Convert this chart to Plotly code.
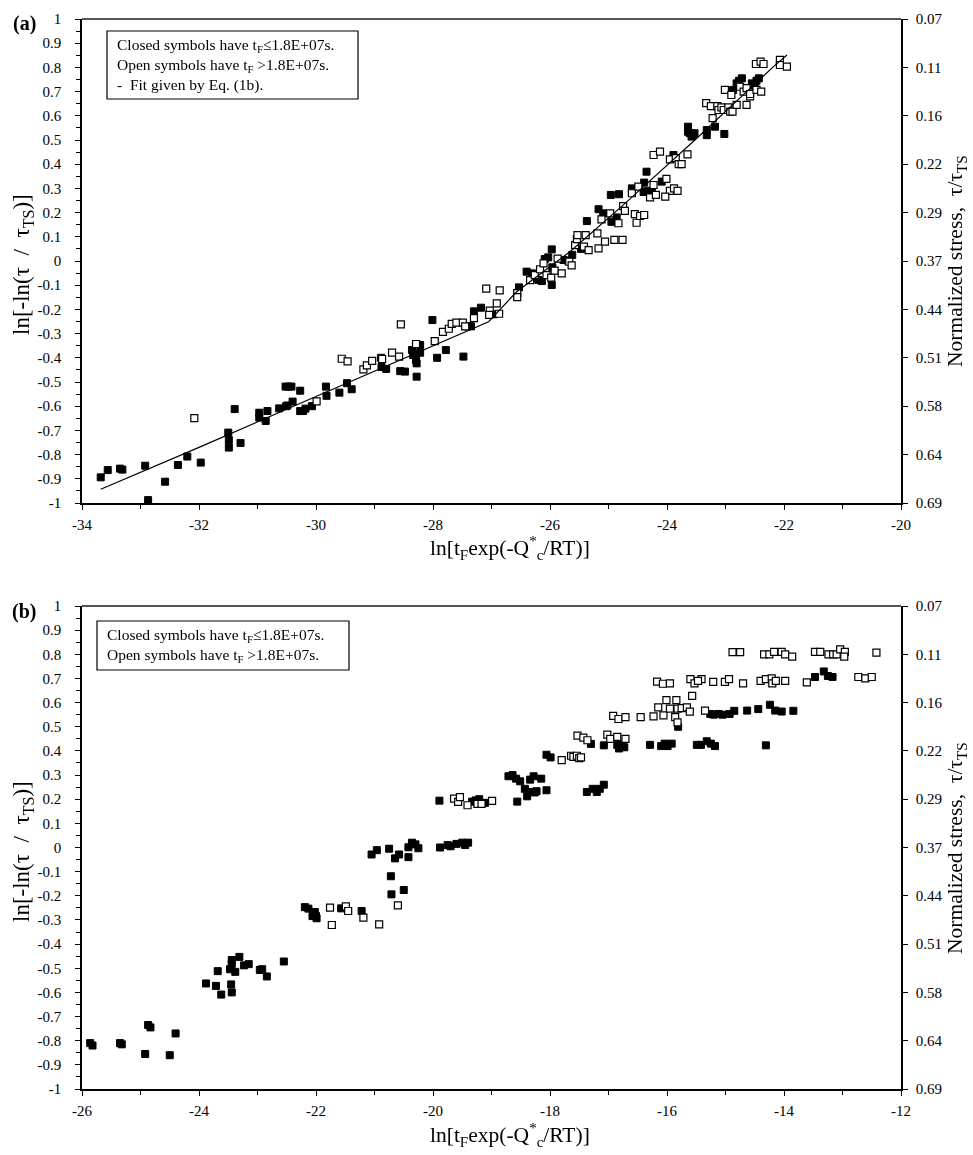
import plotly.graph_objects as go

# ---------------- DATA ----------------
# Panel (a): closed symbols (tF <= 1.8E+07 s)
a_closed_x = [-33.68, -33.56, -33.35, -33.31, -32.92, -32.87, -32.58, -32.36, -32.2, -31.97,
              -31.5, -31.49, -31.49, -31.39, -31.29, -30.97, -30.97, -30.86, -30.83, -30.63,
              -30.52, -30.47, -30.42, -30.27, -30.51, -30.49, -30.4, -30.27, -30.22, -30.18,
              -30.07, -29.83, -29.82, -29.6, -29.47, -29.39,
              -28.89, -28.88, -28.8, -28.56, -28.48, -28.36, -28.34, -28.28, -28.22, -28.22,
              -28.29, -28.28, -28.01, -27.93, -27.78, -27.48, -27.41, -27.35, -27.3, -27.18,
              -26.96, -26.53, -26.4, -26.31, -26.27, -26.2, -26.14, -26.09, -26.03, -25.97,
              -25.97, -25.96, -25.77, -25.7, -25.62, -25.47, -25.37, -25.17, -25.09, -24.95,
              -24.86, -24.96, -24.82, -24.6, -24.39, -24.4, -24.33, -24.26,
              -24.35, -24.09, -23.89, -23.64, -23.64, -23.61, -23.56, -23.58, -23.53, -23.32,
              -23.32, -23.18, -23.02, -22.87, -22.81, -22.77, -22.72, -22.55, -22.5, -22.47, -22.43]
a_closed_y = [-0.894, -0.864, -0.858, -0.862, -0.846, -0.988, -0.912, -0.843, -0.808, -0.833,
              -0.709, -0.74, -0.771, -0.612, -0.752, -0.627, -0.647, -0.661, -0.62, -0.609,
              -0.519, -0.519, -0.519, -0.536, -0.60, -0.597, -0.581, -0.62, -0.62, -0.61,
              -0.60, -0.519, -0.557, -0.544, -0.505, -0.53,
              -0.40, -0.438, -0.446, -0.455, -0.457, -0.368, -0.388, -0.423, -0.347, -0.379,
              -0.409, -0.478, -0.244, -0.40, -0.368, -0.395, -0.27, -0.27, -0.208, -0.193,
              -0.22, -0.109, -0.044, -0.051, -0.07, -0.078, -0.083, 0.008, 0.015, 0.048,
              -0.099, -0.026, 0.004, 0.002, 0.025, 0.05, 0.165, 0.214, 0.197, 0.162,
              0.18, 0.273, 0.276, 0.30, 0.324, 0.285, 0.29, 0.285,
              0.369, 0.328, 0.438, 0.555, 0.534, 0.528, 0.52, 0.514, 0.528, 0.541,
              0.52, 0.555, 0.525, 0.707, 0.734, 0.745, 0.755, 0.734, 0.724, 0.745, 0.755]

# Panel (a): open symbols (tF > 1.8E+07 s)
a_open_x = [-32.08, -29.99, -29.56, -29.46, -29.19, -29.13, -29.04, -28.87, -28.7, -28.58,
            -28.55, -28.29, -27.97, -27.83, -27.73, -27.68, -27.6, -27.49, -27.45, -27.3,
            -27.09, -27.03, -27.04, -26.87, -26.91, -26.86, -26.56, -26.56, -26.34, -26.26,
            -26.17, -26.11, -26.06, -25.98, -25.92, -25.87, -25.8, -25.67, -25.63, -25.57,
            -25.54, -25.53, -25.42, -25.39, -25.34, -25.19, -25.17, -25.12, -25.06, -24.97,
            -24.9, -24.76, -24.83, -24.75, -24.72, -24.6, -24.55, -24.52, -24.46, -24.39,
            -24.49, -24.29, -24.19, -24.23,
            -24.01, -23.95, -23.88, -23.82, -24.03, -24.23, -24.12, -23.95, -23.85, -23.8,
            -23.75, -23.65, -23.22, -23.33, -23.25, -23.14, -23.12, -23.07, -23.03, -22.95,
            -22.92, -22.88, -22.81, -22.64, -23.01, -22.9, -22.75, -22.69, -22.64, -22.58,
            -22.58, -22.47, -22.39, -22.48, -22.4, -22.35, -22.07, -22.07, -21.95]
a_open_y = [-0.649, -0.58, -0.404, -0.415, -0.448, -0.431, -0.413, -0.405, -0.379, -0.395,
            -0.262, -0.343, -0.331, -0.293, -0.28, -0.26, -0.255, -0.255, -0.27, -0.236,
            -0.114, -0.205, -0.223, -0.218, -0.175, -0.121, -0.133, -0.149, -0.079, -0.058,
            -0.034, -0.01, -0.058, -0.069, -0.04, 0.01, -0.051, -0.003, -0.018, 0.066,
            0.09, 0.107, 0.059, 0.107, 0.045, 0.114, 0.052, 0.172, 0.08, 0.197,
            0.087, 0.087, 0.156, 0.227, 0.207, 0.28, 0.194, 0.158, 0.186, 0.19,
            0.307, 0.263, 0.273, 0.314,
            0.339, 0.29, 0.30, 0.29, 0.266, 0.438, 0.452, 0.42, 0.425, 0.40,
            0.40, 0.441, 0.59, 0.652, 0.64, 0.64, 0.624, 0.635, 0.624, 0.635,
            0.617, 0.617, 0.645, 0.645, 0.707, 0.686, 0.72, 0.70, 0.714, 0.68,
            0.69, 0.707, 0.70, 0.814, 0.824, 0.814, 0.831, 0.81, 0.803]

# Panel (a): fit given by Eq. (1b)
a_fit_x = [-33.68, -32.0, -30.0, -28.0, -27.05, -26.57, -25.66, -24.75, -23.5, -22.18, -21.95]
a_fit_y = [-0.943, -0.77, -0.56, -0.35, -0.251, -0.127, 0.038, 0.231, 0.505, 0.803, 0.851]

# Panel (b): closed symbols
b_closed_x = [-25.86, -25.82, -25.35, -25.32, -24.92, -24.87, -24.83, -24.5, -24.4,
              -23.88, -23.71, -23.68, -23.62, -23.45, -23.44, -23.44, -23.44, -23.47, -23.38,
              -23.31, -23.23, -23.15, -22.96, -22.92, -22.84, -22.55, -22.19, -22.13, -22.06,
              -22.02, -22.0, -21.99, -21.57, -21.22, -21.05, -20.96, -20.75, -20.72, -20.71,
              -20.65, -20.58, -20.5, -20.42, -20.42, -20.36, -20.3, -20.25,
              -19.88, -19.75, -19.7, -19.6, -19.5, -19.45, -19.4,
              -19.89, -19.33, -19.27, -19.21, -19.11, -18.56, -18.71, -18.64, -18.58, -18.51,
              -18.34, -18.28, -18.15, -18.43, -18.39, -18.31, -18.26, -18.23, -18.06, -17.37,
              -17.27, -17.2, -17.15, -17.08, -18.06, -17.99, -17.3, -17.08, -16.85, -16.82,
              -16.76, -16.73, -16.29, -16.1, -16.04, -15.99, -15.92, -15.81, -15.49, -15.42,
              -15.32, -15.25, -15.18, -14.31, -15.26, -15.2, -15.12, -15.05, -14.93, -14.85,
              -14.63, -14.44, -14.24, -14.15, -14.04, -13.84, -13.47, -13.32, -13.25, -13.17]
b_closed_y = [-0.81, -0.82, -0.81, -0.815, -0.855, -0.735, -0.745, -0.86, -0.77,
              -0.563, -0.573, -0.512, -0.609, -0.567, -0.60, -0.466, -0.483, -0.504, -0.515,
              -0.453, -0.488, -0.483, -0.507, -0.504, -0.534, -0.472, -0.247, -0.253, -0.284,
              -0.267, -0.284, -0.293, -0.252, -0.263, -0.029, -0.011, -0.005, -0.119, -0.194,
              -0.045, -0.029, -0.176, -0.04, 0.001, 0.02, 0.013, -0.003,
              0.0, 0.01, 0.005, 0.015, 0.02, 0.01, 0.02,
              0.194, 0.19, 0.195, 0.20, 0.185, 0.19, 0.295, 0.30, 0.285, 0.274,
              0.281, 0.295, 0.285, 0.243, 0.212, 0.23, 0.228, 0.233, 0.237, 0.23,
              0.243, 0.23, 0.243, 0.26, 0.384, 0.373, 0.429, 0.423, 0.425, 0.41,
              0.425, 0.415, 0.425, 0.42, 0.43, 0.42, 0.43, 0.50, 0.425, 0.425,
              0.44, 0.43, 0.42, 0.423, 0.553, 0.55, 0.553, 0.55, 0.553, 0.566,
              0.567, 0.573, 0.591, 0.567, 0.563, 0.566, 0.706, 0.729, 0.71, 0.706]

# Panel (b): open symbols
b_open_x = [-21.76, -21.73, -21.49, -21.45, -21.19, -20.92, -20.6,
            -19.64, -19.57, -19.54, -19.41, -19.24, -19.17, -18.99,
            -17.8, -17.64, -17.6, -17.54, -17.5, -17.47,
            -17.53, -17.43, -17.36, -17.02, -16.97, -16.85, -16.71,
            -16.92, -16.83, -16.71, -16.45, -16.23, -16.06, -15.86, -15.82,
            -16.15, -16.01, -15.95, -15.84, -15.82, -15.75, -15.66, -15.61, -15.57, -15.35,
            -16.17, -16.07, -15.95, -15.6, -15.53, -15.41, -15.47, -15.21, -15.01, -14.94,
            -14.7, -14.4, -14.31, -14.21, -14.2, -14.14, -13.98, -13.61, -12.73, -12.61, -12.5,
            -14.88, -14.75, -14.34, -14.25, -14.17, -14.04, -13.98, -13.86, -13.47, -13.38,
            -13.24, -13.16, -13.1, -13.04, -12.96, -12.97, -12.42]
b_open_y = [-0.249, -0.321, -0.244, -0.263, -0.29, -0.318, -0.24,
            0.202, 0.189, 0.209, 0.175, 0.181, 0.181, 0.193,
            0.362, 0.38, 0.375, 0.38, 0.37, 0.373,
            0.463, 0.455, 0.444, 0.467, 0.45, 0.458, 0.45,
            0.545, 0.532, 0.54, 0.54, 0.543, 0.547, 0.54, 0.518,
            0.58, 0.61, 0.575, 0.61, 0.575, 0.577, 0.58, 0.563, 0.628, 0.567,
            0.687, 0.678, 0.68, 0.697, 0.68, 0.697, 0.69, 0.686, 0.686, 0.697,
            0.68, 0.69, 0.697, 0.70, 0.68, 0.69, 0.69, 0.684, 0.706, 0.70, 0.706,
            0.809, 0.809, 0.80, 0.80, 0.81, 0.81, 0.80, 0.79, 0.81, 0.81,
            0.80, 0.80, 0.80, 0.82, 0.81, 0.79, 0.807]

# Tick labels
y_tickvals = [1, 0.9, 0.8, 0.7, 0.6, 0.5, 0.4, 0.3, 0.2, 0.1, 0, -0.1, -0.2, -0.3, -0.4, -0.5,
              -0.6, -0.7, -0.8, -0.9, -1]
y_ticktext = ["1", "0.9", "0.8", "0.7", "0.6", "0.5", "0.4", "0.3", "0.2", "0.1", "0", "-0.1",
              "-0.2", "-0.3", "-0.4", "-0.5", "-0.6", "-0.7", "-0.8", "-0.9", "-1"]
r_tickvals = [1, 0.8, 0.6, 0.4, 0.2, 0, -0.2, -0.4, -0.6, -0.8, -1]
r_ticktext = ["0.07", "0.11", "0.16", "0.22", "0.29", "0.37", "0.44", "0.51", "0.58", "0.64", "0.69"]
a_xtickvals = [-34, -32, -30, -28, -26, -24, -22, -20]
a_xticktext = ["-34", "-32", "-30", "-28", "-26", "-24", "-22", "-20"]
b_xtickvals = [-26, -24, -22, -20, -18, -16, -14, -12]
b_xticktext = ["-26", "-24", "-22", "-20", "-18", "-16", "-14", "-12"]

# ---------------- LAYOUT HELPERS ----------------
W, H = 973, 1155
PL, PR, PT, PB = 82, 901, 19, 1089          # plot-area edges in page pixels
ML, MR, MT, MB = PL, W - PR, PT, H - PB
PW = PR - PL
PH = PB - PT


def px_x(px):
    return (px - PL) / PW


def px_y(py):
    return (PB - py) / PH


FONT = "Liberation Serif, Times New Roman, serif"
closed_marker = dict(symbol="square", size=7, color="black", line=dict(color="black", width=1))
open_marker = dict(symbol="square", size=7, color="white", line=dict(color="black", width=1.2))

fig = go.Figure()
# Panel (a)
fig.add_trace(go.Scatter(x=a_closed_x, y=a_closed_y, mode="markers", marker=closed_marker,
                         xaxis="x", yaxis="y", showlegend=False, hoverinfo="x+y"))
fig.add_trace(go.Scatter(x=a_open_x, y=a_open_y, mode="markers", marker=open_marker,
                         xaxis="x", yaxis="y", showlegend=False, hoverinfo="x+y"))
fig.add_trace(go.Scatter(x=a_fit_x, y=a_fit_y, mode="lines", line=dict(color="black", width=1.2),
                         xaxis="x", yaxis="y", showlegend=False, hoverinfo="skip"))
# anchor trace so the right-hand axis of (a) is drawn
fig.add_trace(go.Scatter(x=a_fit_x, y=a_fit_y, mode="lines", opacity=0, line=dict(width=0),
                         xaxis="x", yaxis="y3", showlegend=False, hoverinfo="skip"))
# Panel (b)
fig.add_trace(go.Scatter(x=b_closed_x, y=b_closed_y, mode="markers", marker=closed_marker,
                         xaxis="x2", yaxis="y2", showlegend=False, hoverinfo="x+y"))
fig.add_trace(go.Scatter(x=b_open_x, y=b_open_y, mode="markers", marker=open_marker,
                         xaxis="x2", yaxis="y2", showlegend=False, hoverinfo="x+y"))
fig.add_trace(go.Scatter(x=b_open_x, y=b_open_y, mode="markers", opacity=0,
                         xaxis="x2", yaxis="y4", showlegend=False, hoverinfo="skip"))

tickfont = dict(family=FONT, size=15, color="black")
common_x = dict(showgrid=False, zeroline=False, showline=True, linecolor="black", linewidth=1.5,
                ticks="outside", ticklen=5, tickcolor="black", tickwidth=1, tickfont=tickfont,
                ticklabelstandoff=2,
                minor=dict(dtick=1, ticks="outside", ticklen=4, tickcolor="black", tickwidth=1))
common_y = dict(showgrid=False, zeroline=False, showline=True, linecolor="black", linewidth=1.5,
                ticks="outside", ticklen=5, tickcolor="black", tickwidth=1, tickfont=tickfont,
                tickmode="array", tickvals=y_tickvals, ticktext=y_ticktext, range=[-1, 1],
                ticklabelstandoff=11,
                minor=dict(tickmode="array",
                           tickvals=[v - 0.05 for v in y_tickvals[:-1]],
                           ticks="outside", ticklen=4, tickcolor="black", tickwidth=1))
common_r = dict(showgrid=False, zeroline=False, showline=True, linecolor="black", linewidth=1.5,
                ticks="outside", ticklen=5, tickcolor="black", tickwidth=1, tickfont=tickfont,
                tickmode="array", tickvals=r_tickvals, ticktext=r_ticktext, range=[-1, 1],
                side="right", ticklabelstandoff=5)

dom_a = [px_y(503), 1.0]
dom_b = [0.0, px_y(606)]

fig.update_layout(
    width=W, height=H,
    margin=dict(l=ML, r=MR, t=MT, b=MB),
    paper_bgcolor="white", plot_bgcolor="white",
    font=dict(family=FONT, color="black"),
    showlegend=False,
    xaxis=dict(domain=[0, 1], anchor="y", range=[-34, -20], tickmode="array",
               tickvals=a_xtickvals, ticktext=a_xticktext, **common_x),
    yaxis=dict(domain=dom_a, anchor="x", **common_y),
    yaxis3=dict(overlaying="y", anchor="x", **common_r),
    xaxis2=dict(domain=[0, 1], anchor="y2", range=[-26, -12], tickmode="array",
                tickvals=b_xtickvals, ticktext=b_xticktext, **common_x),
    yaxis2=dict(domain=dom_b, anchor="x2", **common_y),
    yaxis4=dict(overlaying="y2", anchor="x2", **common_r),
)

# top borders (gray)
for yref in ["y domain", "y2 domain"]:
    xr = "x domain" if yref == "y domain" else "x2 domain"
    fig.add_shape(type="line", xref=xr, yref=yref, x0=0, x1=1, y0=1, y1=1,
                  line=dict(color="#555555", width=2))

# legend boxes
fig.add_shape(type="rect", xref="paper", yref="paper", x0=px_x(107), x1=px_x(358),
              y0=px_y(99), y1=px_y(31), line=dict(color="black", width=1.2), fillcolor="white")
fig.add_shape(type="rect", xref="paper", yref="paper", x0=px_x(97), x1=px_x(349),
              y0=px_y(670), y1=px_y(621), line=dict(color="black", width=1.2), fillcolor="white")

annots = []
txt_font = dict(family=FONT, size=15.5, color="black")
annots.append(dict(xref="paper", yref="paper", x=px_x(115), y=px_y(65), xanchor="left",
                   yanchor="middle", align="left", showarrow=False, font=txt_font,
                   text="Closed symbols have t<sub>F</sub>≤1.8E+07s.<br>"
                        "Open symbols have t<sub>F</sub> >1.8E+07s.<br>"
                        "-  Fit given by Eq. (1b)."))
annots.append(dict(xref="paper", yref="paper", x=px_x(105), y=px_y(645.5), xanchor="left",
                   yanchor="middle", align="left", showarrow=False, font=txt_font,
                   text="Closed symbols have t<sub>F</sub>≤1.8E+07s.<br>"
                        "Open symbols have t<sub>F</sub> >1.8E+07s."))
# panel labels
lab_font = dict(family=FONT, size=20, color="black")
annots.append(dict(xref="paper", yref="paper", x=px_x(24), y=px_y(24), xanchor="center",
                   yanchor="middle", showarrow=False, font=lab_font, text="<b>(a)</b>"))
annots.append(dict(xref="paper", yref="paper", x=px_x(24), y=px_y(611), xanchor="center",
                   yanchor="middle", showarrow=False, font=lab_font, text="<b>(b)</b>"))
# axis titles
ttl_font = dict(family=FONT, size=21.5, color="black")
yt_font = dict(family=FONT, size=23, color="black")
xtitle = "ln[t<sub>F</sub>exp(-Q<sup>*</sup><sub>c</sub>/RT)]"
ytitle = "ln[-ln(τ\u00a0\u00a0/\u00a0\u00a0τ<sub>TS</sub>)]"
rtitle = "Normalized stress,  τ/τ<sub>TS</sub>"
for cy_x, cy_mid in [(548, 261), (1135, 848)]:
    annots.append(dict(xref="paper", yref="paper", x=px_x(510), y=px_y(cy_x), xanchor="center",
                       yanchor="middle", showarrow=False, font=ttl_font, text=xtitle))
    annots.append(dict(xref="paper", yref="paper", x=px_x(23), y=px_y(cy_mid + 4), xanchor="center",
                       yanchor="middle", showarrow=False, font=yt_font, text=ytitle,
                       textangle=-90))
    annots.append(dict(xref="paper", yref="paper", x=px_x(956), y=px_y(cy_mid), xanchor="center",
                       yanchor="middle", showarrow=False, font=ttl_font, text=rtitle,
                       textangle=-90))
fig.update_layout(annotations=annots)

# remove the default 8 px page margin so the figure sits at the page origin
fig.write_html("out.html",
               config={"displayModeBar": False},
               post_script="document.body.style.margin='0px';document.body.style.overflow='hidden';")
